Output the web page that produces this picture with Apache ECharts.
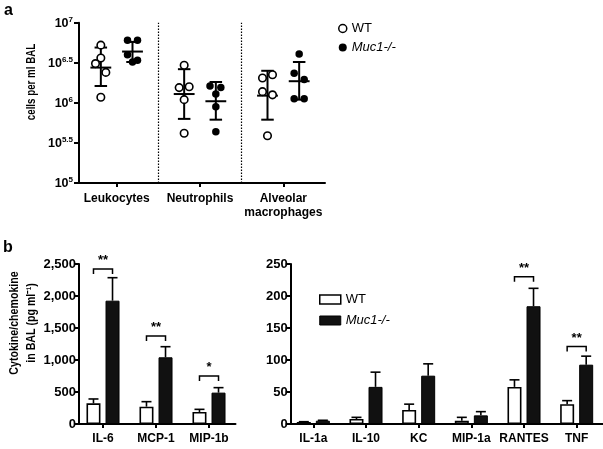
<!DOCTYPE html>
<html><head><meta charset="utf-8">
<script src="https://cdn.jsdelivr.net/npm/echarts@6/dist/echarts.min.js"></script>
<style>html,body{margin:0;padding:0;background:#fff}#c{width:603px;height:449px}</style>
</head><body><div id="c"></div>
<script>
// ---------- Panel a: cells per ml BAL (log10 values) ----------
const cellGroups = ['Leukocytes', 'Neutrophils', 'Alveolar\nmacrophages'];
const cellsWT = [
  [6.72, 6.56, 6.49, 6.38, 6.07],
  [6.47, 6.19, 6.20, 6.04, 5.62],
  [6.31, 6.35, 6.14, 6.10, 5.59]
];
const cellsMuc = [
  [6.78, 6.78, 6.60, 6.51, 6.53],
  [6.21, 6.19, 6.11, 5.95, 5.64],
  [6.61, 6.37, 6.29, 6.05, 6.05]
];
const meanWT  = [6.44, 6.11, 6.09];
const sdLoWT  = [6.21, 5.80, 5.79];
const sdHiWT  = [6.69, 6.42, 6.40];
const meanMuc = [6.64, 6.02, 6.27];
const sdLoMuc = [6.51, 5.79, 6.04];
const sdHiMuc = [6.76, 6.26, 6.51];
const logTicks = [5, 5.5, 6, 6.5, 7];

// horizontal spread of the dots inside each group (layout only)
const jitterWT  = [[0, 0, -0.064, 0.06, 0], [0, -0.06, 0.06, 0, 0], [-0.06, 0.06, -0.06, 0.06, 0]];
const jitterMuc = [[-0.06, 0.06, -0.06, 0, 0.06], [-0.07, 0.06, 0, 0, 0], [0, -0.06, 0.06, -0.06, 0.06]];

// ---------- Panel b: cytokines (pg/ml) ----------
const leftCats   = ['IL-6', 'MCP-1', 'MIP-1b'];
const leftWT     = [323, 271, 188];
const leftWTsem  = [68, 78, 41];
const leftMuc    = [1927, 1042, 490];
const leftMucSem = [359, 166, 78];
const leftTicks  = [0, 500, 1000, 1500, 2000, 2500];
const leftSigCat = [0, 1, 2];
const leftSigY   = [2420, 1375, 750];
const leftSigTxt = ['**', '**', '*'];

const rightCats   = ['IL-1a', 'IL-10', 'KC', 'MIP-1a', 'RANTES', 'TNF'];
const rightWT     = [3.1, 7.8, 22, 5.2, 58, 31];
const rightWTsem  = [0.5, 2.6, 9, 5.2, 11, 5.5];
const rightMuc    = [5.2, 58, 75.5, 13.5, 184, 92.7];
const rightMucSem = [0.6, 23, 18.5, 5.8, 28, 13.3];
const rightTicks  = [0, 50, 100, 150, 200, 250];
const rightSigCat = [4, 5];
const rightSigY   = [230, 121];
const rightSigTxt = ['**', '**'];

// ---------- styling constants ----------
const FONT = 'Liberation Sans, Arial, Helvetica, sans-serif';
const BAR_W = 14, BAR_GAP = 0.36;
const HALF_PAIR = (BAR_W + BAR_W * BAR_GAP) / 2;
const GROUP_OFF = 0.19;
function axisLine() { return { show: true, onZero: false, lineStyle: { color: '#000', width: 2 } }; }
function xTick() { return { show: true, alignWithLabel: true, length: 4, lineStyle: { color: '#000', width: 2 } }; }
function yTick() { return { show: true, length: 5, lineStyle: { color: '#000', width: 2 } }; }

const chart = echarts.init(document.getElementById('c'), null, { renderer: 'canvas' });

function scatterData(vals, jit, off) {
  const out = [];
  vals.forEach((arr, g) => arr.forEach((v, j) => out.push([g + off + jit[g][j], v])));
  return out;
}
function errData(mean, lo, hi, off) {
  return mean.map((m, g) => [g + off, m, lo[g], hi[g]]);
}
function sdRender(params, api) {
  const x = api.value(0), m = api.value(1), lo = api.value(2), hi = api.value(3);
  const pM1 = api.coord([x - 0.125, m]), pM2 = api.coord([x + 0.125, m]);
  const pLo = api.coord([x, lo]), pHi = api.coord([x, hi]);
  const cw = api.size([0.075, 0])[0];
  const st = { stroke: '#000', lineWidth: 2 };
  return { type: 'group', children: [
    { type: 'line', shape: { x1: pM1[0], y1: pM1[1], x2: pM2[0], y2: pM2[1] }, style: st },
    { type: 'line', shape: { x1: pLo[0], y1: pLo[1], x2: pHi[0], y2: pHi[1] }, style: st },
    { type: 'line', shape: { x1: pLo[0] - cw, y1: pLo[1], x2: pLo[0] + cw, y2: pLo[1] }, style: st },
    { type: 'line', shape: { x1: pHi[0] - cw, y1: pHi[1], x2: pHi[0] + cw, y2: pHi[1] }, style: st }
  ]};
}
function barErr(vals, sem) { return vals.map((v, i) => [i, v, v + sem[i]]); }
function barErrRender(side) {
  return function (params, api) {
    const i = api.value(0);
    const a = api.coord([i, api.value(1)]), b = api.coord([i, api.value(2)]);
    const x = a[0] + side * HALF_PAIR;
    const st = { stroke: '#000', lineWidth: 1.6 };
    return { type: 'group', children: [
      { type: 'line', shape: { x1: x, y1: a[1], x2: x, y2: b[1] }, style: st },
      { type: 'line', shape: { x1: x - 5, y1: b[1], x2: x + 5, y2: b[1] }, style: st }
    ]};
  };
}
function sigData(cats, ys, txt) { return cats.map((c, k) => [c, ys[k], txt[k]]); }
function sigRender(params, api) {
  const p = api.coord([api.value(0), api.value(1)]);
  const txt = api.value(2);
  const x1 = p[0] - HALF_PAIR, x2 = p[0] + HALF_PAIR, y = p[1];
  return { type: 'group', children: [
    { type: 'polyline', shape: { points: [[x1, y + 5], [x1, y], [x2, y], [x2, y + 5]] },
      style: { stroke: '#000', lineWidth: 1.5, fill: null } },
    { type: 'text', x: p[0], y: y - 2,
      style: { text: String(txt), font: 'bold 13px ' + FONT, fill: '#000', align: 'center', verticalAlign: 'bottom' } }
  ]};
}

const yLabelA = {
  formatter: v => '{b|10}{s|' + v + '}',
  margin: 6,
  rich: {
    b: { fontFamily: FONT, fontWeight: 'bold', fontSize: 12.5, color: '#000', verticalAlign: 'bottom', lineHeight: 14 },
    s: { fontFamily: FONT, fontWeight: 'bold', fontSize: 8, color: '#000', verticalAlign: 'bottom', padding: [0, 0, 6, 0], lineHeight: 14 }
  }
};
function boldLabel(extra) {
  return Object.assign({ fontFamily: FONT, fontWeight: 'bold', fontSize: 12, color: '#000' }, extra);
}
const gridA = { left: 75, top: 22.7, width: 250, height: 160.3 };

const option = {
  animation: false,
  backgroundColor: '#fff',
  grid: [
    gridA,
    { left: 76.5, top: 264, width: 159, height: 160 },
    { left: 287, top: 264, width: 318, height: 160 },
    Object.assign({}, gridA)
  ],
  xAxis: [
    { type: 'category', gridIndex: 0, data: cellGroups, boundaryGap: true,
      axisLine: axisLine(), axisTick: xTick(),
      axisLabel: boldLabel({ margin: 9, lineHeight: 14, interval: 0 }) },
    { type: 'value', gridIndex: 3, min: -0.5, max: 2.5, show: false },
    { type: 'category', gridIndex: 1, data: leftCats, boundaryGap: true,
      axisLine: axisLine(), axisTick: xTick(),
      axisLabel: boldLabel({ margin: 9, interval: 0 }) },
    { type: 'category', gridIndex: 2, data: rightCats, boundaryGap: true,
      axisLine: axisLine(), axisTick: xTick(),
      axisLabel: boldLabel({ margin: 9, interval: 0 }) }
  ],
  yAxis: [
    { type: 'value', gridIndex: 0, min: logTicks[0], max: logTicks[logTicks.length - 1], interval: 0.5, offset: -4,
      axisLine: axisLine(), axisTick: yTick(), splitLine: { show: false }, axisLabel: yLabelA },
    { type: 'value', gridIndex: 1, min: leftTicks[0], max: leftTicks[leftTicks.length - 1], interval: 500, offset: -2.5,
      axisLine: axisLine(), axisTick: yTick(), splitLine: { show: false },
      axisLabel: boldLabel({ margin: 3, fontSize: 13, formatter: v => v.toLocaleString('en-US') }) },
    { type: 'value', gridIndex: 2, min: rightTicks[0], max: rightTicks[rightTicks.length - 1], interval: 50, offset: -3.7,
      axisLine: axisLine(), axisTick: yTick(), splitLine: { show: false },
      axisLabel: boldLabel({ margin: 3, fontSize: 13 }) },
    { type: 'value', gridIndex: 3, min: logTicks[0], max: logTicks[logTicks.length - 1], show: false, splitLine: { show: false } }
  ],
  legend: [
    { orient: 'vertical', left: 333, top: 17, itemWidth: 8, itemHeight: 8, itemGap: 6,
      textStyle: { fontFamily: FONT, fontSize: 13, color: '#000', rich: { i: { fontFamily: FONT, fontSize: 13, fontStyle: 'italic', color: '#000' } } },
      formatter: n => n === 'WT' ? n : '{i|' + n + '}',
      data: [
        { name: 'WT', icon: 'circle', itemStyle: { color: '#fff', borderColor: '#000', borderWidth: 1.5 } },
        { name: 'Muc1-/-', icon: 'circle', itemStyle: { color: '#000', borderWidth: 0 } }
      ] },
    { orient: 'vertical', left: 314, top: 288, itemWidth: 21, itemHeight: 9, itemGap: 8,
      textStyle: { fontFamily: FONT, fontSize: 13, color: '#000', rich: { i: { fontFamily: FONT, fontSize: 13, fontStyle: 'italic', color: '#000' } } },
      formatter: n => n === 'WT' ? n : '{i|' + n + '}',
      data: [
        { name: 'WT', icon: 'rect', itemStyle: { color: '#fff', borderColor: '#000', borderWidth: 1.5 } },
        { name: 'Muc1-/-', icon: 'rect', itemStyle: { color: '#111', borderColor: '#000', borderWidth: 1 } }
      ] }
  ],
  graphic: [
    { type: 'text', left: 4, top: 3, style: { text: 'a', font: 'bold 16px ' + FONT, fill: '#000' } },
    { type: 'text', left: 3, top: 240, style: { text: 'b', font: 'bold 16px ' + FONT, fill: '#000' } },
    { type: 'text', x: 32, y: 82, rotation: Math.PI / 2, scaleX: 0.78,
      style: { text: 'cells per ml BAL', font: 'bold 12.5px ' + FONT, fill: '#000', align: 'center', verticalAlign: 'middle' } },
    { type: 'text', x: 23, y: 323, rotation: Math.PI / 2, scaleX: 0.85,
      style: { text: 'Cytokine/chemokine\nin BAL (pg ml\u207B\u00B9)', font: 'bold 12.5px ' + FONT, lineHeight: 17, fill: '#000', align: 'center', verticalAlign: 'middle' } }
  ],
  series: [
    { type: 'custom', name: 'sdWT', xAxisIndex: 1, yAxisIndex: 3, renderItem: sdRender,
      encode: { x: 0, y: [1, 2, 3] }, data: errData(meanWT, sdLoWT, sdHiWT, -GROUP_OFF), z: 2, silent: true,
      markLine: { silent: true, symbol: ['none', 'none'], label: { show: false },
        lineStyle: { type: [1.5, 1.5], color: '#000', width: 1.2 }, data: [{ xAxis: 0.5 }, { xAxis: 1.5 }] } },
    { type: 'custom', name: 'sdMuc', xAxisIndex: 1, yAxisIndex: 3, renderItem: sdRender,
      encode: { x: 0, y: [1, 2, 3] }, data: errData(meanMuc, sdLoMuc, sdHiMuc, GROUP_OFF), z: 2, silent: true },
    { type: 'scatter', name: 'WT', xAxisIndex: 1, yAxisIndex: 3, symbol: 'circle', symbolSize: 7.5, z: 3,
      itemStyle: { color: '#fff', borderColor: '#000', borderWidth: 1.6, opacity: 1 },
      data: scatterData(cellsWT, jitterWT, -GROUP_OFF) },
    { type: 'scatter', name: 'Muc1-/-', xAxisIndex: 1, yAxisIndex: 3, symbol: 'circle', symbolSize: 7.5, z: 3,
      itemStyle: { color: '#000', opacity: 1 },
      data: scatterData(cellsMuc, jitterMuc, GROUP_OFF) },

    { type: 'bar', name: 'WT', xAxisIndex: 2, yAxisIndex: 1, barWidth: BAR_W, barGap: (BAR_GAP * 100) + '%',
      itemStyle: { color: '#fff', borderColor: '#000', borderWidth: 1.6 }, data: leftWT },
    { type: 'bar', name: 'Muc1-/-', xAxisIndex: 2, yAxisIndex: 1, barWidth: BAR_W, barGap: (BAR_GAP * 100) + '%',
      itemStyle: { color: '#111', borderColor: '#000', borderWidth: 1 }, data: leftMuc },
    { type: 'custom', xAxisIndex: 2, yAxisIndex: 1, renderItem: barErrRender(-1), encode: { x: 0, y: [1, 2] },
      data: barErr(leftWT, leftWTsem), silent: true, z: 3 },
    { type: 'custom', xAxisIndex: 2, yAxisIndex: 1, renderItem: barErrRender(1), encode: { x: 0, y: [1, 2] },
      data: barErr(leftMuc, leftMucSem), silent: true, z: 3 },
    { type: 'custom', xAxisIndex: 2, yAxisIndex: 1, renderItem: sigRender, encode: { x: 0, y: 1 },
      data: sigData(leftSigCat, leftSigY, leftSigTxt), silent: true, z: 3 },

    { type: 'bar', name: 'WT', xAxisIndex: 3, yAxisIndex: 2, barWidth: BAR_W, barGap: (BAR_GAP * 100) + '%',
      itemStyle: { color: '#fff', borderColor: '#000', borderWidth: 1.6 }, data: rightWT },
    { type: 'bar', name: 'Muc1-/-', xAxisIndex: 3, yAxisIndex: 2, barWidth: BAR_W, barGap: (BAR_GAP * 100) + '%',
      itemStyle: { color: '#111', borderColor: '#000', borderWidth: 1 }, data: rightMuc },
    { type: 'custom', xAxisIndex: 3, yAxisIndex: 2, renderItem: barErrRender(-1), encode: { x: 0, y: [1, 2] },
      data: barErr(rightWT, rightWTsem), silent: true, z: 3 },
    { type: 'custom', xAxisIndex: 3, yAxisIndex: 2, renderItem: barErrRender(1), encode: { x: 0, y: [1, 2] },
      data: barErr(rightMuc, rightMucSem), silent: true, z: 3 },
    { type: 'custom', xAxisIndex: 3, yAxisIndex: 2, renderItem: sigRender, encode: { x: 0, y: 1 },
      data: sigData(rightSigCat, rightSigY, rightSigTxt), silent: true, z: 3 }
  ]
};
chart.setOption(option);
</script>
</body></html>
